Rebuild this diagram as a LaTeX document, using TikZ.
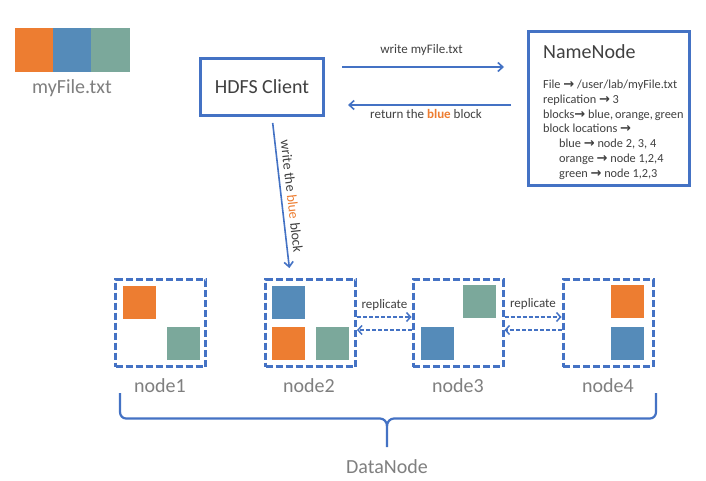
\documentclass[tikz,border=0pt]{standalone}
\usepackage{fontspec}
\setmainfont{Carlito}
\newfontfamily\dejavu{DejaVu Sans}
\usetikzlibrary{arrows.meta,calc}
\definecolor{cOrange}{HTML}{ED7D31}
\definecolor{cBlue}{HTML}{558BB9}
\definecolor{cGreen}{HTML}{7BA89B}
\definecolor{cLine}{HTML}{4472C4}
\definecolor{cText}{HTML}{404040}
\definecolor{cGray}{HTML}{7F7F7F}
\newcommand{\nnarrow}{{\dejavu\bfseries\fontsize{13}{14}\selectfont →}}
\tikzset{
  sq/.style={minimum width=34pt,minimum height=34pt,inner sep=0pt,outer sep=0pt,draw=white,line width=0.5pt},
  dnbox/.style={draw=cLine,line width=3pt,dash pattern=on 7pt off 3pt,minimum width=90pt,minimum height=87pt,inner sep=0pt},
  solidbox/.style={draw=cLine,line width=3pt,inner sep=0pt},
  arr/.style={draw=cLine,line width=1.6pt,-{Straight Barb[length=5pt,width=9pt]}},
  darr/.style={draw=cLine,line width=1.5pt,dash pattern=on 4pt off 2pt,-{Straight Barb[length=4pt,width=9pt]}},
  lbl/.style={font=\fontsize{13}{15}\selectfont,text=cText,inner sep=0pt},
  nnt/.style={font=\fontsize{12.3}{14}\selectfont,text=cText,inner sep=0pt,anchor=base west},
  big/.style={font=\fontsize{20}{24}\selectfont,text=cGray,inner sep=0pt,anchor=base},
  brc/.style={draw=cLine,line width=2.2pt}
}
\begin{document}
\begin{tikzpicture}[x=1pt,y=-1pt]
\useasboundingbox[fill=white] (0,0) rectangle (706,481);
% file blocks
\fill[cOrange] (15,28) rectangle (53,72);
\fill[cBlue] (53,28) rectangle (91,72);
\fill[cGreen] (91,28) rectangle (130,72);
\node[big] (fname) at (72,94) {myFile.txt};
% HDFS client
\node[solidbox,minimum width=123pt,minimum height=57pt,font=\fontsize{20}{24}\selectfont,text=cText] (hdfs) at (262,87) {HDFS Client};
% NameNode
\node[solidbox,minimum width=161pt,minimum height=154pt] (nn) at (609,108.5) {};
\node[font=\fontsize{20}{24}\selectfont,text=cText,inner sep=0pt,anchor=base west] (nntitle) at (543,59) {NameNode};
\node[nnt] (nn1) at (543,89) {File \nnarrow{} /user/lab/myFile.txt};
\node[nnt] (nn2) at (543,103.7) {replication \nnarrow{} 3};
\node[nnt] (nn3) at (543,118.4) {blocks\nnarrow{} blue,\,orange,\,green};
\node[nnt] (nn4) at (543,133) {block locations \nnarrow};
\node[nnt] (nn5) at (559,147.8) {blue \nnarrow{} node 2, 3, 4};
\node[nnt] (nn6) at (559,162.5) {orange \nnarrow{} node 1,2,4};
\node[nnt] (nn7) at (559,177.2) {green \nnarrow{} node 1,2,3};
% client <-> namenode arrows
\coordinate (w1) at ([yshift=20pt]hdfs.east);
\coordinate (r1) at ([yshift=-18pt]hdfs.east);
\draw[arr,shorten <=17pt,shorten >=23pt] (w1) -- (w1 -| nn.west);
\draw[arr,shorten <=16pt,shorten >=23pt] (r1 -| nn.west) -- (r1);
\node[lbl,anchor=base] (wlbl) at (421.5,54) {write myFile.txt};
\node[lbl,anchor=base] (rlbl) at (426,119) {return the \textcolor{cOrange}{\bfseries blue} block};
% data nodes
\node[dnbox] (dn1) at (160.5,323) {};
\node[dnbox] (dn2) at (310.5,323) {};
\node[dnbox] (dn3) at (458,323) {};
\node[dnbox] (dn4) at (608,323) {};
% blocks in data nodes
\node[sq,fill=cOrange] (b1o) at (139,302.5) {};
\node[sq,fill=cGreen] (b1g) at (183.5,343) {};
\node[sq,fill=cBlue] (b2b) at (288.5,302.5) {};
\node[sq,fill=cOrange] (b2o) at (288.5,343) {};
\node[sq,fill=cGreen] (b2g) at (332.5,343) {};
\node[sq,fill=cGreen] (b3g) at (479,301) {};
\node[sq,fill=cBlue] (b3b) at (437,343) {};
\node[sq,fill=cOrange] (b4o) at (627.5,301) {};
\node[sq,fill=cBlue] (b4b) at (627.5,343) {};
% node labels
\node[big] (l1) at (160,392) {node1};
\node[big] (l2) at (309,392) {node2};
\node[big] (l3) at (458,392) {node3};
\node[big] (l4) at (608,392) {node4};
% write the blue block
\coordinate (c1) at ([xshift=10pt]hdfs.south);
\coordinate (c2) at ([xshift=-20pt]dn2.north);
\draw[arr,shorten <=6pt,shorten >=10pt] (c1) -- (c2)
  node[midway,sloped,above=5pt,font=\fontsize{14}{16}\selectfont,text=cText,inner sep=0pt] (wblbl) {write the \textcolor{cOrange}{blue} block};
% replicate arrows
\coordinate (p23) at ([yshift=6pt]dn2.east);
\coordinate (q23) at ([yshift=-7pt]dn2.east);
\draw[darr] (p23) -- (p23 -| dn3.west);
\draw[darr] (q23 -| dn3.west) -- (q23);
\coordinate (p34) at ([yshift=6pt]dn3.east);
\coordinate (q34) at ([yshift=-7pt]dn3.east);
\draw[darr] (p34) -- (p34 -| dn4.west);
\draw[darr] (q34 -| dn4.west) -- (q34);
\node[lbl,anchor=base] (rep1) at (384.5,308) {replicate};
\node[lbl,anchor=base] (rep2) at (533,307) {replicate};
% brace
\draw[brc] (120,393) -- (120,412) to[out=-90,in=180] (126,418.5) -- (380,418.5) to[out=0,in=90] (387,426) -- (387,447);
\draw[brc] (656,393) -- (656,412) to[out=-90,in=0] (650,418.5) -- (394,418.5) to[out=180,in=90] (387,426);
\node[big] (dnl) at (387,473) {DataNode};
\end{tikzpicture}
\end{document}
